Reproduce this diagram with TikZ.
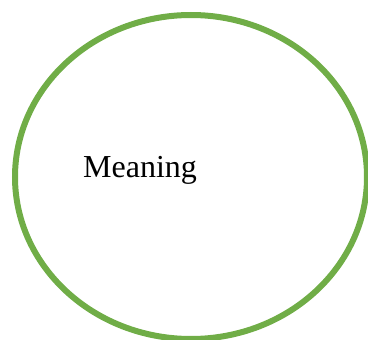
\documentclass[tikz,border=0pt]{standalone}
\usepackage{fontspec}
\setmainfont{Liberation Serif}
\definecolor{offgreen}{HTML}{70AD47}
\begin{document}
\begin{tikzpicture}[x=1pt,y=-1pt,
  ring/.style={draw=offgreen,line width=6pt},
  label/.style={font=\fontsize{32}{38}\selectfont,inner sep=0pt,anchor=base west}]
\useasboundingbox (0,0) rectangle (368,340);
\clip (0,0) rectangle (368,340);
\draw[ring] (191,177) ellipse [x radius=176, y radius=162];
\node[label] (meaning) at (83,178) {Meaning};
\end{tikzpicture}
\end{document}
